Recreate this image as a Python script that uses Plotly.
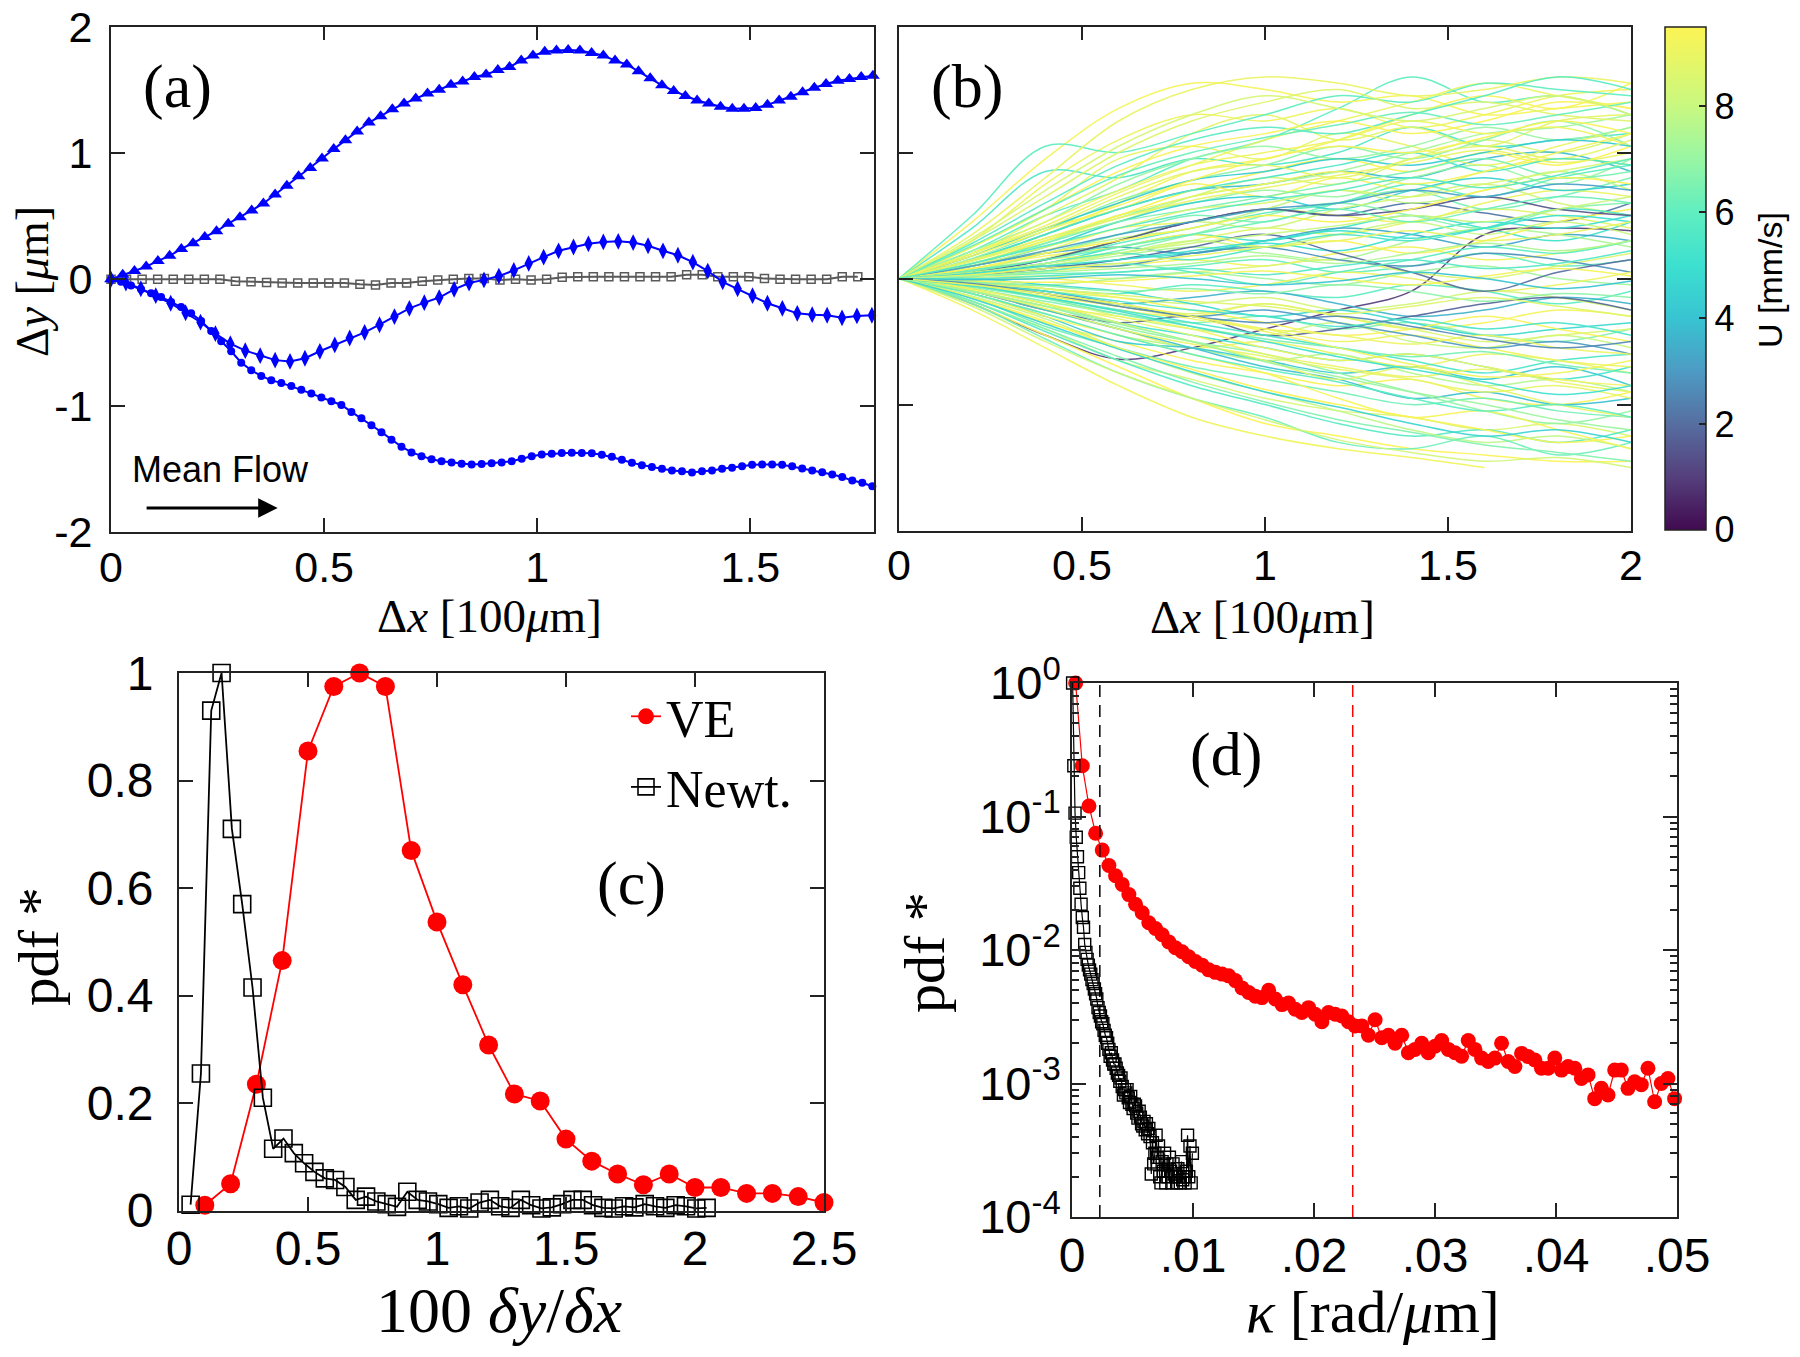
import plotly.graph_objects as go
from plotly.colors import sample_colorscale

W, H = 1800, 1357
OFF = 0  # the page body margin is removed by the post script below
SANS = "Liberation Sans, Arial, sans-serif"
SERIF = "Liberation Serif, Times New Roman, serif"

# ---------------- Panel (a): single trajectories ----------------
A_TRI_STEP = 0.0275
A_TRI_Y = [0, 0.035, 0.065, 0.10, 0.145, 0.185, 0.24, 0.285, 0.335, 0.38, 0.44, 0.49, 0.545, 0.60,
           0.67, 0.74, 0.815, 0.88, 0.955, 1.03, 1.10, 1.17, 1.24, 1.29, 1.345, 1.39, 1.43, 1.47,
           1.50, 1.54, 1.565, 1.60, 1.62, 1.655, 1.68, 1.73, 1.77, 1.80, 1.81, 1.815, 1.81, 1.79,
           1.77, 1.73, 1.70, 1.645, 1.59, 1.535, 1.49, 1.45, 1.415, 1.39, 1.365, 1.35, 1.35, 1.355,
           1.38, 1.415, 1.445, 1.48, 1.515, 1.545, 1.57, 1.585, 1.60, 1.61]
A_DIA_STEP = 0.035
A_DIA_Y = [0, -0.03, -0.075, -0.13, -0.19, -0.265, -0.34, -0.43, -0.51, -0.565, -0.605, -0.64,
           -0.65, -0.625, -0.57, -0.52, -0.465, -0.42, -0.36, -0.295, -0.23, -0.185, -0.145, -0.08,
           -0.03, -0.005, 0.025, 0.07, 0.125, 0.175, 0.225, 0.255, 0.28, 0.295, 0.30, 0.29, 0.265,
           0.225, 0.19, 0.135, 0.065, -0.02, -0.075, -0.13, -0.19, -0.23, -0.27, -0.28, -0.285,
           -0.305, -0.29, -0.285]
A_CIR_STEP = 0.0235
A_CIR_Y = [0, -0.02, -0.05, -0.08, -0.11, -0.14, -0.18, -0.22, -0.27, -0.33, -0.41, -0.49, -0.57,
           -0.66, -0.72, -0.765, -0.80, -0.82, -0.845, -0.875, -0.905, -0.935, -0.965, -0.995,
           -1.05, -1.10, -1.155, -1.21, -1.27, -1.325, -1.37, -1.40, -1.425, -1.44, -1.45, -1.46,
           -1.466, -1.462, -1.455, -1.45, -1.44, -1.42, -1.40, -1.387, -1.38, -1.374, -1.372,
           -1.374, -1.376, -1.388, -1.405, -1.428, -1.453, -1.472, -1.486, -1.50, -1.514, -1.52,
           -1.53, -1.52, -1.514, -1.50, -1.492, -1.48, -1.467, -1.465, -1.466, -1.468, -1.48,
           -1.498, -1.514, -1.528, -1.545, -1.565, -1.593, -1.61, -1.638]
A_SQ_STEP = 0.0365
A_SQ_Y = [0, 0, 0, 0, 0, 0, 0, 0, -0.015, -0.02, -0.025, -0.03, -0.03, -0.03, -0.03, -0.03, -0.04,
          -0.045, -0.03, -0.03, -0.015, -0.005, 0, 0.005, 0.005, -0.005, 0, -0.005, 0, 0.015, 0.02,
          0.02, 0.02, 0.02, 0.02, 0.02, 0.02, 0.035, 0.035, 0.02, 0.02, 0.02, 0.005, 0, 0, 0, 0,
          0.02, 0.02]

# ---------------- Panel (b): ensemble of trajectories ----------------
TRAJ_X = [0, 0.2, 0.4, 0.6, 0.8, 1.0, 1.2, 1.4, 1.6, 1.8, 2.0]
TRAJ_U = [9.1, 6.0, 9.3, 5.6, 8.8, 8.4, 3.8, 7.0, 9.3, 2.2, 6.4, 9.0, 5.3, 8.7, 3.3, 7.4, 9.4, 1.0,
          8.9, 6.8, 9.5, 4.5, 7.9, 5.0, 9.2, 6.1, 8.6, 2.8, 7.2, 9.1, 5.9, 8.3, 3.6, 9.3, 6.6, 8.0,
          1.8, 9.0, 5.2, 7.6, 9.4, 4.2, 6.3, 8.5, 9.2, 9.5, 5.7, 7.8, 3.9, 6.9, 8.9, 5.4, 9.1, 2.0,
          6.7, 8.2, 4.8, 9.4, 5.9, 8.0, 9.0, 6.2, 9.3, 7.3, 3.0, 5.5, 8.6, 6.0, 9.2, 1.5,
          9.3, 6.0, 9.0, 8.6, 5.8, 9.4, 7.0, 9.1, 4.3, 8.8, 5.5, 9.2, 6.5, 8.5, 3.2, 9.5, 6.2, 8.0,
          5.0, 9.0, 7.5, 5.6, 9.3, 4.0, 6.8, 8.7, 5.3, 9.1, 2.6, 6.4, 8.9, 5.9, 9.4, 6.6, 8.3, 4.6,
          9.0, 7.1, 5.1, 9.2, 9.4, 9.0, 6.1, 8.4, 5.7]
TRAJ_Y = [
    [0, 0.30, 0.75, 1.10, 1.30, 1.25, 1.35, 1.20, 1.30, 1.45, 1.50],
    [0, 0.22, 0.50, 0.70, 0.95, 1.10, 1.35, 1.60, 1.40, 1.45, 1.30],
    [0, 0.15, 0.35, 0.60, 0.85, 0.95, 1.10, 1.30, 1.45, 1.35, 1.55],
    [0, 0.40, 0.85, 0.80, 0.95, 0.90, 1.00, 1.20, 1.05, 1.10, 1.15],
    [0, 0.20, 0.50, 0.80, 1.15, 1.30, 1.10, 1.20, 1.05, 1.25, 1.30],
    [0, 0.10, 0.30, 0.45, 0.65, 0.80, 0.75, 0.95, 1.10, 1.00, 1.15],
    [0, 0.15, 0.35, 0.55, 0.70, 0.75, 0.85, 0.80, 0.95, 1.00, 0.85],
    [0, 0.12, 0.28, 0.50, 0.60, 0.70, 0.65, 0.80, 0.90, 0.75, 0.95],
    [0, 0.18, 0.40, 0.55, 0.75, 0.65, 0.80, 0.70, 0.85, 0.95, 0.90],
    [0, 0.05, 0.15, 0.30, 0.45, 0.55, 0.50, 0.60, 0.52, 0.45, 0.60],
    [0, 0.08, 0.20, 0.35, 0.50, 0.45, 0.60, 0.70, 0.55, 0.65, 0.80],
    [0, 0.10, 0.22, 0.40, 0.45, 0.55, 0.50, 0.45, 0.60, 0.70, 0.65],
    [0, 0.06, 0.12, 0.25, 0.35, 0.30, 0.40, 0.50, 0.40, 0.30, 0.45],
    [0, 0.05, 0.15, 0.20, 0.30, 0.40, 0.35, 0.45, 0.55, 0.50, 0.40],
    [0, 0.10, 0.20, 0.25, 0.20, 0.30, 0.40, 0.35, 0.25, 0.35, 0.30],
    [0, 0.04, 0.10, 0.18, 0.25, 0.20, 0.15, 0.30, 0.40, 0.35, 0.25],
    [0, 0.08, 0.18, 0.25, 0.35, 0.25, 0.30, 0.20, 0.30, 0.45, 0.55],
    [0, -0.20, -0.45, -0.64, -0.55, -0.40, -0.25, -0.10, 0.35, 0.40, 0.38],
    [0, 0.25, 0.55, 0.95, 1.05, 0.95, 1.15, 1.05, 0.90, 1.05, 1.20],
    [0, 0.16, 0.38, 0.62, 0.78, 0.90, 1.05, 0.95, 1.10, 1.25, 1.05],
    [0, 0.12, 0.30, 0.50, 0.70, 0.85, 0.95, 0.85, 1.00, 0.90, 1.05],
    [0, 0.10, 0.25, 0.45, 0.60, 0.65, 0.55, 0.70, 0.80, 0.70, 0.75],
    [0, 0.06, 0.20, 0.32, 0.40, 0.55, 0.70, 0.60, 0.70, 0.85, 0.70],
    [0, 0.03, 0.08, 0.15, 0.20, 0.28, 0.22, 0.35, 0.45, 0.40, 0.50],
    [0, 0.02, 0.06, 0.10, 0.15, 0.10, 0.20, 0.25, 0.15, 0.20, 0.30],
    [0, 0.02, 0.04, 0.05, 0.10, 0.15, 0.05, 0.10, 0.20, 0.10, 0.15],
    [0, 0.01, 0.02, 0.00, 0.05, 0.10, 0.15, 0.05, 0.00, 0.10, 0.20],
    [0, 0.05, 0.10, 0.10, 0.20, 0.25, 0.15, 0.10, 0.20, 0.15, 0.05],
    [0, -0.02, -0.05, 0.00, 0.05, 0.00, -0.05, 0.05, 0.10, 0.00, -0.05],
    [0, -0.01, 0.00, -0.05, -0.10, -0.05, 0.05, 0.00, -0.10, -0.05, 0.05],
    [0, -0.03, -0.08, -0.12, -0.05, -0.10, -0.15, -0.05, -0.10, -0.20, -0.10],
    [0, -0.04, -0.10, -0.15, -0.20, -0.15, -0.25, -0.20, -0.10, -0.15, -0.25],
    [0, -0.05, -0.12, -0.20, -0.15, -0.10, -0.20, -0.30, -0.25, -0.15, -0.20],
    [0, -0.06, -0.15, -0.25, -0.30, -0.20, -0.30, -0.40, -0.35, -0.25, -0.30],
    [0, -0.08, -0.18, -0.28, -0.35, -0.30, -0.40, -0.35, -0.45, -0.50, -0.40],
    [0, -0.05, -0.15, -0.30, -0.40, -0.45, -0.35, -0.50, -0.55, -0.45, -0.55],
    [0, -0.10, -0.25, -0.35, -0.30, -0.45, -0.40, -0.30, -0.20, -0.15, -0.25],
    [0, -0.10, -0.25, -0.40, -0.55, -0.50, -0.60, -0.70, -0.60, -0.65, -0.75],
    [0, -0.08, -0.20, -0.35, -0.45, -0.55, -0.65, -0.60, -0.70, -0.80, -0.70],
    [0, -0.12, -0.28, -0.45, -0.55, -0.65, -0.60, -0.75, -0.85, -0.80, -0.90],
    [0, -0.15, -0.35, -0.50, -0.65, -0.75, -0.85, -0.80, -0.95, -1.00, -0.90],
    [0, -0.12, -0.30, -0.50, -0.55, -0.65, -0.75, -0.70, -0.80, -0.70, -0.85],
    [0, -0.15, -0.38, -0.55, -0.70, -0.80, -0.90, -1.00, -0.95, -1.05, -1.10],
    [0, -0.18, -0.40, -0.65, -0.80, -0.95, -1.05, -1.10, -1.20, -1.15, -1.25],
    [0, -0.25, -0.55, -0.85, -1.10, -1.25, -1.35, -1.42, -1.50, None, None],
    [0, -0.20, -0.45, -0.70, -0.95, -1.15, -1.25, -1.35, -1.40, -1.45, -1.45],
    [0, -0.18, -0.42, -0.65, -0.85, -1.00, -1.15, -1.25, -1.20, -1.30, -1.20],
    [0, -0.14, -0.32, -0.55, -0.75, -0.90, -1.05, -1.20, -1.30, -1.25, -1.35],
    [0, -0.10, -0.25, -0.40, -0.55, -0.70, -0.80, -0.95, -0.90, -1.00, -0.95],
    [0, -0.10, -0.22, -0.38, -0.50, -0.60, -0.75, -0.90, -1.05, -1.15, -1.05],
    [0, -0.08, -0.20, -0.35, -0.50, -0.65, -0.80, -0.70, -0.85, -1.00, -1.10],
    [0, -0.06, -0.15, -0.25, -0.35, -0.45, -0.55, -0.65, -0.75, -0.65, -0.60],
    [0, -0.05, -0.12, -0.22, -0.30, -0.40, -0.50, -0.45, -0.55, -0.65, -0.70],
    [0, 0.03, 0.08, 0.15, 0.25, 0.35, 0.20, 0.05, -0.10, 0.05, 0.15],
    [0, 0.05, 0.12, 0.22, 0.35, 0.50, 0.60, 0.50, 0.40, 0.55, 0.60],
    [0, 0.07, 0.16, 0.30, 0.45, 0.40, 0.55, 0.65, 0.75, 0.60, 0.50],
    [0, 0.00, -0.05, -0.10, -0.20, -0.30, -0.25, -0.35, -0.45, -0.40, -0.35],
    [0, -0.02, -0.08, -0.15, -0.25, -0.35, -0.45, -0.40, -0.30, -0.40, -0.50],
    [0, 0.02, 0.06, 0.12, 0.05, -0.05, 0.05, 0.15, 0.25, 0.20, 0.30],
    [0, 0.03, 0.10, 0.20, 0.30, 0.25, 0.35, 0.45, 0.35, 0.45, 0.35],
    [0, 0.20, 0.42, 0.68, 0.90, 1.10, 1.25, 1.40, 1.55, 1.45, 1.35],
    [0, -0.20, -0.48, -0.75, -0.95, -1.10, -1.30, -1.35, -1.25, -1.40, -1.30],
    [0, -0.12, -0.30, -0.45, -0.60, -0.75, -0.95, -1.10, -1.05, -1.20, -1.35],
    [0, 0.14, 0.32, 0.48, 0.65, 0.75, 0.85, 1.00, 1.15, 1.20, 1.30],
    [0, -0.04, -0.10, -0.20, -0.30, -0.25, -0.35, -0.45, -0.55, -0.50, -0.60],
    [0, 0.05, 0.12, 0.20, 0.15, 0.25, 0.35, 0.30, 0.40, 0.55, 0.50],
    [0, -0.06, -0.14, -0.20, -0.28, -0.20, -0.30, -0.40, -0.50, -0.45, -0.40],
    [0, 0.07, 0.15, 0.28, 0.40, 0.52, 0.60, 0.75, 0.65, 0.80, 0.90],
    [0, -0.09, -0.22, -0.30, -0.40, -0.55, -0.65, -0.60, -0.70, -0.80, -0.85],
    [0, 0.05, 0.15, 0.30, 0.45, 0.55, 0.50, 0.55, 0.65, 0.55, 0.50],
    [0, 0.45, 0.95, 1.35, 1.55, 1.50, 1.40, 1.45, 1.30, 1.35, 1.40],
    [0, 0.50, 1.05, 1.00, 1.15, 1.30, 1.45, 1.40, 1.55, 1.50, 1.45],
    [0, 0.35, 0.80, 1.25, 1.50, 1.60, 1.55, 1.45, 1.50, 1.60, 1.55],
    [0, 0.30, 0.65, 1.00, 1.25, 1.40, 1.50, 1.35, 1.40, 1.30, 1.25],
    [0, 0.28, 0.60, 0.90, 1.10, 1.20, 1.15, 1.30, 1.45, 1.60, 1.50],
    [0, 0.25, 0.55, 0.85, 1.05, 1.15, 1.25, 1.15, 1.25, 1.40, 1.35],
    [0, 0.22, 0.45, 0.75, 0.95, 1.05, 0.95, 1.05, 1.20, 1.10, 1.20],
    [0, 0.20, 0.45, 0.70, 0.90, 1.00, 1.10, 1.25, 1.15, 1.20, 1.05],
    [0, 0.18, 0.40, 0.60, 0.78, 0.85, 0.95, 0.90, 1.00, 1.10, 1.05],
    [0, 0.20, 0.40, 0.65, 0.85, 0.90, 0.80, 0.95, 1.05, 0.95, 1.10],
    [0, 0.15, 0.35, 0.55, 0.70, 0.80, 0.90, 1.00, 0.85, 0.95, 0.90],
    [0, 0.15, 0.32, 0.50, 0.65, 0.75, 0.85, 0.75, 0.85, 1.00, 1.15],
    [0, 0.12, 0.28, 0.45, 0.55, 0.65, 0.75, 0.85, 0.95, 0.80, 0.85],
    [0, 0.10, 0.25, 0.40, 0.55, 0.60, 0.70, 0.65, 0.75, 0.85, 0.95],
    [0, 0.10, 0.22, 0.35, 0.45, 0.55, 0.60, 0.70, 0.65, 0.75, 0.70],
    [0, 0.08, 0.20, 0.30, 0.40, 0.50, 0.45, 0.55, 0.70, 0.80, 0.75],
    [0, 0.06, 0.15, 0.25, 0.35, 0.45, 0.55, 0.45, 0.55, 0.65, 0.60],
    [0, 0.05, 0.12, 0.20, 0.28, 0.35, 0.42, 0.50, 0.45, 0.55, 0.65],
    [0, 0.04, 0.10, 0.15, 0.22, 0.30, 0.38, 0.32, 0.40, 0.50, 0.45],
    [0, 0.03, 0.08, 0.12, 0.18, 0.25, 0.30, 0.38, 0.30, 0.35, 0.45],
    [0, 0.02, 0.05, 0.08, 0.12, 0.18, 0.12, 0.20, 0.28, 0.22, 0.30],
    [0, 0.00, 0.02, 0.05, 0.08, 0.03, 0.10, 0.15, 0.08, 0.12, 0.22],
    [0, -0.02, -0.03, -0.02, 0.02, 0.06, 0.00, -0.05, 0.02, 0.08, 0.02],
    [0, -0.01, 0.00, 0.03, 0.00, -0.05, -0.02, 0.05, 0.00, -0.08, -0.02],
    [0, -0.03, -0.06, -0.10, -0.08, -0.12, -0.05, -0.10, -0.18, -0.12, -0.15],
    [0, -0.04, -0.08, -0.13, -0.18, -0.22, -0.28, -0.22, -0.15, -0.22, -0.30],
    [0, -0.05, -0.10, -0.18, -0.25, -0.30, -0.38, -0.32, -0.40, -0.35, -0.45],
    [0, -0.06, -0.14, -0.22, -0.32, -0.40, -0.45, -0.52, -0.45, -0.55, -0.60],
    [0, -0.04, -0.12, -0.22, -0.30, -0.35, -0.30, -0.38, -0.48, -0.55, -0.50],
    [0, -0.07, -0.16, -0.28, -0.38, -0.48, -0.55, -0.62, -0.58, -0.68, -0.75],
    [0, -0.10, -0.24, -0.40, -0.52, -0.62, -0.72, -0.80, -0.90, -0.85, -0.95],
    [0, -0.12, -0.28, -0.45, -0.60, -0.72, -0.82, -0.95, -1.05, -1.00, -1.10],
    [0, -0.15, -0.34, -0.55, -0.72, -0.88, -1.00, -1.10, -1.20, -1.30, -1.25],
    [0, -0.18, -0.40, -0.62, -0.82, -0.98, -1.12, -1.22, -1.32, -1.38, -1.45],
    [0, -0.22, -0.50, -0.75, -0.95, -1.12, -1.28, -1.38, -1.45, -1.42, -1.50],
    [0, -0.16, -0.36, -0.56, -0.74, -0.90, -1.02, -1.15, -1.25, -1.20, -1.30],
    [0, -0.08, -0.20, -0.32, -0.45, -0.60, -0.70, -0.78, -0.72, -0.82, -0.90],
    [0, -0.10, -0.22, -0.36, -0.50, -0.66, -0.78, -0.90, -1.00, -1.12, -1.20],
    [0, -0.06, -0.15, -0.26, -0.38, -0.50, -0.62, -0.72, -0.82, -0.92, -0.85],
    [0, -0.05, -0.12, -0.20, -0.30, -0.42, -0.55, -0.68, -0.78, -0.75, -0.65],
    [0, 0.18, 0.38, 0.58, 0.78, 0.95, 1.05, 1.00, 1.12, 1.25, 1.15],
    [0, 0.14, 0.30, 0.48, 0.62, 0.72, 0.82, 0.92, 1.02, 0.92, 1.00],
    [0, 0.26, 0.55, 0.82, 1.00, 1.12, 1.22, 1.32, 1.22, 1.30, 1.40],
    [0, 0.32, 0.70, 1.05, 1.30, 1.45, 1.35, 1.25, 1.35, 1.45, 1.30],
    [0, 0.12, 0.26, 0.40, 0.52, 0.62, 0.70, 0.80, 0.72, 0.82, 0.95],
]
U_MAX = 9.5
# colour map of the speed scale (value in mm/s, colour)
U_SCALE_VALUES = [0, 1, 2, 3, 4, 5, 6, 7, 8, 9.5]
U_SCALE_COLORS = ["#410a50", "#553f7c", "#566ea0", "#4d9bc4", "#38c4d2", "#3ce0d0", "#60eec0",
                  "#98f6a4", "#c8f880", "#fcf454"]

# ---------------- Panel (c): slope pdf ----------------
C_VE_X = [0.1, 0.2, 0.3, 0.4, 0.5, 0.6, 0.7, 0.8, 0.9, 1.0, 1.1, 1.2, 1.3, 1.4, 1.5, 1.6, 1.7, 1.8,
          1.9, 2.0, 2.1, 2.2, 2.3, 2.4, 2.5]
C_VE_Y = [0.01, 0.05, 0.235, 0.465, 0.855, 0.975, 1.0, 0.975, 0.67, 0.537, 0.42, 0.308, 0.217,
          0.204, 0.133, 0.092, 0.068, 0.048, 0.068, 0.043, 0.043, 0.032, 0.032, 0.026, 0.015]
C_NEWT_X0, C_NEWT_STEP = 0.045, 0.04
C_NEWT_Y = [0.011, 0.255, 0.93, 1.0, 0.71, 0.57, 0.415, 0.21, 0.115, 0.134,
            0.107, 0.088, 0.072, 0.06, 0.057, 0.044, 0.02, 0.026, 0.017, 0.012,
            0.007, 0.035, 0.02, 0.017, 0.012, 0.005, 0.008, 0.004, 0.015, 0.02,
            0.008, 0.005, 0.02, 0.01, 0.004, 0.006, 0.012, 0.02, 0.02, 0.01,
            0.005, 0.004, 0.008, 0.006, 0.012, 0.008, 0.005, 0.01, 0.008, 0.004,
            0.005]

# ---------------- Panel (d): curvature pdf ----------------
D_VE_X0, D_VE_STEP = 0.0003, 0.00055
D_VE_Y = [1.0, 0.24, 0.12, 0.075, 0.056, 0.043, 0.036, 0.031, 0.026, 0.022,
          0.019, 0.016, 0.0145, 0.013, 0.0115, 0.0104, 0.0097, 0.0089, 0.0082, 0.0077,
          0.0071, 0.0068, 0.0066, 0.0064, 0.0059, 0.0052, 0.0048, 0.0045, 0.0044, 0.0050,
          0.0043, 0.0039, 0.0040, 0.0036, 0.0034, 0.0037, 0.0033, 0.0029, 0.0034, 0.0033,
          0.0032, 0.0029, 0.0027, 0.0027, 0.0023, 0.0030, 0.0022, 0.0023, 0.0020, 0.0023,
          0.0017, 0.0018, 0.0020, 0.0017, 0.0019, 0.0021, 0.0018, 0.0017, 0.0016, 0.0021,
          0.0018, 0.00155, 0.00146, 0.00155, 0.0020, 0.00146, 0.00134, 0.00168, 0.00159, 0.0015,
          0.0013, 0.0013, 0.00155, 0.00126, 0.00134, 0.0013, 0.00109, 0.00116, 0.00077, 0.00092,
          0.00082, 0.00126, 0.00126, 0.00092, 0.00103, 0.00098, 0.0013, 0.00073, 0.0010, 0.00109,
          0.00077]
D_NEWT_X0, D_NEWT_STEP = 0.00005, 0.0001
D_NEWT_Y = [1.0, 0.24, 0.106, 0.07, 0.05, 0.038, 0.029, 0.022, 0.0175, 0.0148,
            0.011, 0.0096, 0.0085, 0.0077, 0.0071, 0.0066, 0.006, 0.0056, 0.0051, 0.0047,
            0.0043, 0.0037, 0.0034, 0.0032, 0.0029, 0.0028, 0.0025, 0.0023, 0.0022, 0.0020,
            0.0018, 0.0016, 0.0017, 0.0015, 0.0014, 0.0014, 0.0013, 0.0012, 0.00115, 0.00104,
            0.0011, 0.00095, 0.00082, 0.0009, 0.00085, 0.0009, 0.00078, 0.00072, 0.0008, 0.0007,
            0.00065, 0.0007, 0.00068, 0.0006, 0.00055, 0.00062, 0.00056, 0.0005, 0.00048, 0.00052,
            0.00045, 0.0005, 0.00042, 0.00046, 0.0004, 0.00021, 0.00036, 0.00025, 0.0003, 0.00041,
            0.00028, 0.00034, 0.0002, 0.00018, 0.00026, 0.00022, 0.0003, 0.00018, 0.00025, 0.0002,
            0.00028, 0.00022, 0.00018, 0.00025, 0.00021, 0.0002, 0.00018, 0.00023, 0.0002, 0.00018,
            0.00026, 0.00019, 0.0002, 0.00018, 0.00022, 0.00041, 0.0002, 0.00034, 0.00018, 0.0003]
D_KAPPA_NEWT_LINE = 0.0023
D_KAPPA_VE_LINE = 0.0232


def grid(x0, step, n):
    return [round(x0 + step * i, 6) for i in range(n)]


def px(x):
    return (x - OFF) / W


def py(y):
    return 1 - (y - OFF) / H


U_COLORSCALE = [[v / U_MAX, c] for v, c in zip(U_SCALE_VALUES, U_SCALE_COLORS)]

fig = go.Figure()

# ---- (a)
BLUE = "#0000FF"
GRAY = "#5a5a5a"
fig.add_trace(go.Scatter(x=grid(0, A_SQ_STEP, len(A_SQ_Y)), y=A_SQ_Y, mode="lines+markers",
                         line=dict(color=GRAY, width=2),
                         marker=dict(symbol="square-open", size=8, color=GRAY, line=dict(width=1.5)),
                         xaxis="x", yaxis="y", showlegend=False, cliponaxis=False))
fig.add_trace(go.Scatter(x=grid(0, A_TRI_STEP, len(A_TRI_Y)), y=A_TRI_Y, mode="lines+markers",
                         line=dict(color=BLUE, width=2),
                         marker=dict(symbol="triangle-up", size=12, color=BLUE),
                         xaxis="x", yaxis="y", showlegend=False, cliponaxis=False))
fig.add_trace(go.Scatter(x=grid(0, A_DIA_STEP, len(A_DIA_Y)), y=A_DIA_Y, mode="lines+markers",
                         line=dict(color=BLUE, width=2),
                         marker=dict(symbol="diamond-tall", size=12, color=BLUE),
                         xaxis="x", yaxis="y", showlegend=False, cliponaxis=False))
fig.add_trace(go.Scatter(x=grid(0, A_CIR_STEP, len(A_CIR_Y)), y=A_CIR_Y, mode="lines+markers",
                         line=dict(color=BLUE, width=2),
                         marker=dict(symbol="circle", size=8, color=BLUE),
                         xaxis="x", yaxis="y", showlegend=False, cliponaxis=False))

# ---- (b)
traj_colors = sample_colorscale(U_COLORSCALE, [u / U_MAX for u in TRAJ_U])
for ys, col in zip(TRAJ_Y, traj_colors):
    fig.add_trace(go.Scatter(x=TRAJ_X, y=ys, mode="lines",
                             line=dict(color=col, width=1.5, shape="spline", smoothing=1.0),
                             opacity=0.92, xaxis="x2", yaxis="y2", showlegend=False,
                             hoverinfo="skip"))
fig.add_trace(go.Scatter(
    x=[None], y=[None], mode="markers", xaxis="x2", yaxis="y2", showlegend=False,
    marker=dict(color=[0], cmin=0, cmax=U_MAX, colorscale=U_COLORSCALE, showscale=True,
                colorbar=dict(x=px(1665), xanchor="left", xpad=0, y=py(278.3), yanchor="middle",
                              ypad=0, len=(530 - 26.5) / H, lenmode="fraction", thickness=41,
                              thicknessmode="pixels", outlinecolor="#222", outlinewidth=1.5,
                              tickvals=[0, 2, 4, 6, 8], ticktext=["0", "2", "4", "6", "8"],
                              ticks="inside", ticklen=7, tickcolor="#222", tickwidth=1.5,
                              tickfont=dict(family=SANS, size=36, color="black")))))

# ---- (c)
fig.add_trace(go.Scatter(x=C_VE_X, y=C_VE_Y, mode="lines+markers", name="VE",
                         line=dict(color="#FF0000", width=1.8),
                         marker=dict(symbol="circle", size=19, color="#FF0000"),
                         xaxis="x3", yaxis="y3", cliponaxis=False))
fig.add_trace(go.Scatter(x=grid(C_NEWT_X0, C_NEWT_STEP, len(C_NEWT_Y)), y=C_NEWT_Y,
                         mode="lines+markers", name="Newt.",
                         line=dict(color="black", width=1.8),
                         marker=dict(symbol="square-open", size=17, color="black",
                                     line=dict(width=1.6)),
                         xaxis="x3", yaxis="y3", cliponaxis=False))

# ---- (d)
fig.add_trace(go.Scatter(x=grid(D_VE_X0, D_VE_STEP, len(D_VE_Y)), y=D_VE_Y, mode="lines+markers",
                         line=dict(color="#FF0000", width=1.2),
                         marker=dict(symbol="circle", size=15, color="#FF0000"),
                         xaxis="x4", yaxis="y4", showlegend=False, cliponaxis=False))
fig.add_trace(go.Scatter(x=grid(D_NEWT_X0, D_NEWT_STEP, len(D_NEWT_Y)), y=D_NEWT_Y,
                         mode="lines+markers", line=dict(color="black", width=1.2),
                         marker=dict(symbol="square-open", size=12, color="black",
                                     line=dict(width=1.4)),
                         xaxis="x4", yaxis="y4", showlegend=False, cliponaxis=False))


def axis(domain, rng, tickvals, ticktext=None, labels=True, standoff=10, size=43, **kw):
    d = dict(domain=domain, range=rng, tickvals=tickvals, ticks="inside", ticklen=14,
             tickwidth=1.5, tickcolor="#222", showline=True, linecolor="#222", linewidth=1.8,
             mirror="ticks", showgrid=False, zeroline=False, showticklabels=labels,
             automargin=False, ticklabeloverflow="allow",
             tickfont=dict(family=SANS, size=size, color="black"), ticklabelstandoff=standoff)
    if ticktext is not None:
        d["ticktext"] = ticktext
    d.update(kw)
    return d


A_XT = [0, 0.5, 1, 1.5]
A_YT = [-2, -1, 0, 1, 2]
B_XT = [0, 0.5, 1, 1.5, 2]
C_XT = [0, 0.5, 1, 1.5, 2, 2.5]
C_YT = [0, 0.2, 0.4, 0.6, 0.8, 1]
D_XT = [0, 0.01, 0.02, 0.03, 0.04, 0.05]
D_YT = [1e-4, 1e-3, 1e-2, 1e-1, 1]

fig.update_layout(
    width=W, height=H, margin=dict(l=0, r=0, t=0, b=0, autoexpand=False),
    paper_bgcolor="white", plot_bgcolor="white",
    xaxis=axis([px(111), px(874)], [0, 1.79], A_XT, ["0", "0.5", "1", "1.5"], anchor="y",
               standoff=-4),
    yaxis=axis([py(532), py(26.5)], [-2, 2], A_YT, ["-2", "-1", "0", "1", "2"], anchor="x",
               standoff=8),
    xaxis2=axis([px(899), px(1631)], [0, 2], B_XT, ["0", "0.5", "1", "1.5", "2"], anchor="y2",
                standoff=-4),
    yaxis2=axis([py(530.6), py(26.5)], [-2, 2], [-1, 0, 1], labels=False, anchor="x2"),
    xaxis3=axis([px(179), px(824)], [0, 2.5], C_XT, ["0", "0.5", "1", "1.5", "2", "2.5"],
                anchor="y3", standoff=-5, size=48),
    yaxis3=axis([py(1210.6), py(673)], [0, 1], C_YT, ["0", "0.2", "0.4", "0.6", "0.8", "1"],
                anchor="x3", standoff=14, size=48),
    xaxis4=axis([px(1072), px(1677)], [0, 0.05], D_XT, ["0", ".01", ".02", ".03", ".04", ".05"],
                anchor="y4", standoff=-5, size=48),
    yaxis4=axis([py(1217), py(683)], [-4, 0], D_YT,
                ["10<sup>-4</sup>", "10<sup>-3</sup>", "10<sup>-2</sup>", "10<sup>-1</sup>",
                 "10<sup>0</sup>"], type="log", anchor="x4", standoff=0, size=47,
                minor=dict(ticks="inside", ticklen=7, tickcolor="#222", dtick="D1")),
    legend=dict(x=px(626), y=py(676), xanchor="left", yanchor="top",
                font=dict(family=SERIF, size=52, color="black"), bgcolor="rgba(0,0,0,0)"),
    showlegend=True,
)

shapes = [
    dict(type="line", xref="x4", yref="y4 domain", x0=D_KAPPA_NEWT_LINE, x1=D_KAPPA_NEWT_LINE,
         y0=0, y1=1, line=dict(color="black", width=1.5, dash="12px,8px")),
    dict(type="line", xref="x4", yref="y4 domain", x0=D_KAPPA_VE_LINE, x1=D_KAPPA_VE_LINE,
         y0=0, y1=1, line=dict(color="#FF0000", width=1.5, dash="12px,8px")),
]
fig.update_layout(shapes=shapes)


def note(text, x, y, size=48, family=SERIF, angle=0):
    return dict(text=text, x=px(x), y=py(y), xref="paper", yref="paper", showarrow=False,
                xanchor="center", yanchor="middle", textangle=angle,
                font=dict(family=family, size=size, color="black"))


annotations = [
    note("Δ<i>x</i> [100<i>μ</i>m]", 490, 616, size=47),
    note("Δ<i>x</i> [100<i>μ</i>m]", 1262, 617, size=47),
    note("Δ<i>y</i> [<i>μ</i>m]", 32, 282, size=46, angle=-90),
    note("100 <i>δy</i>/<i>δx</i>", 499, 1310, size=64),
    note("pdf\u00a0*", 38, 947, size=57, angle=-90),
    note("<i>κ</i> [rad/<i>μ</i>m]", 1373, 1312, size=60),
    note("pdf\u00a0*", 924, 953, size=58, angle=-90),
    note("(a)", 177, 87, size=62),
    note("(b)", 967, 87, size=62),
    note("(c)", 631, 884, size=62),
    note("(d)", 1226, 755, size=62),
    note("U [mm/s]", 1770, 280, size=34, family=SANS, angle=-90),
    dict(text="Mean Flow", x=0.256, y=-1.506, xref="x", yref="y", showarrow=False,
         font=dict(family=SANS, size=36, color="black")),
    dict(text="", x=0.391, y=-1.81, ax=0.08, ay=-1.81, xref="x", yref="y", axref="x",
         ayref="y", showarrow=True, arrowhead=2, arrowsize=1.3, arrowwidth=3,
         arrowcolor="black"),
]
fig.update_layout(annotations=annotations)

fig.write_html("out.html", config={"displayModeBar": False},
               post_script="document.body.style.margin='0px';document.body.style.padding='0px';")
